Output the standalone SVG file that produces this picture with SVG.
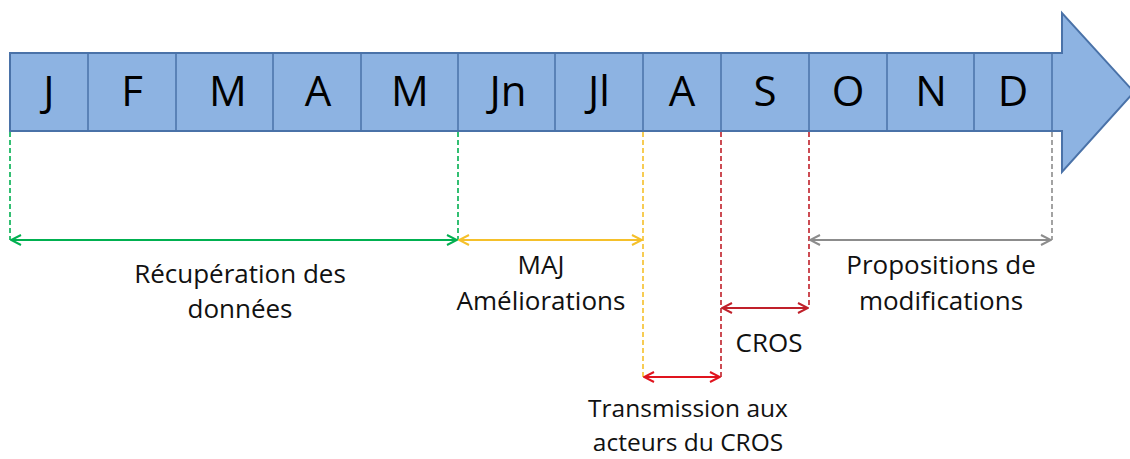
<svg xmlns="http://www.w3.org/2000/svg" width="1130" height="459" viewBox="0 0 1130 459">
<defs>
<style>
.m{font-family:"Open Sans","Liberation Sans",sans-serif;font-size:42px;fill:#000;text-anchor:middle}
.t{font-family:"Open Sans","Liberation Sans",sans-serif;font-size:26px;fill:#111;text-anchor:middle}
.s{font-size:24.5px}
.div{stroke:#4a72a8;stroke-width:1.5}
.d{fill:none;stroke-width:1.6;stroke-dasharray:5,3}
.a{fill:none;stroke-width:2}
</style>
<marker id="hg" viewBox="0 0 12 12" refX="11" refY="6" markerWidth="12" markerHeight="12" markerUnits="userSpaceOnUse" orient="auto-start-reverse"><path d="M1,1 L11,6 L1,11" fill="none" stroke="#00b050" stroke-width="2"/></marker>
<marker id="hy" viewBox="0 0 12 12" refX="11" refY="6" markerWidth="12" markerHeight="12" markerUnits="userSpaceOnUse" orient="auto-start-reverse"><path d="M1,1 L11,6 L1,11" fill="none" stroke="#f5c02a" stroke-width="2"/></marker>
<marker id="hr" viewBox="0 0 12 12" refX="11" refY="6" markerWidth="12" markerHeight="12" markerUnits="userSpaceOnUse" orient="auto-start-reverse"><path d="M1,1 L11,6 L1,11" fill="none" stroke="#e0141e" stroke-width="2"/></marker>
<marker id="hd" viewBox="0 0 12 12" refX="11" refY="6" markerWidth="12" markerHeight="12" markerUnits="userSpaceOnUse" orient="auto-start-reverse"><path d="M1,1 L11,6 L1,11" fill="none" stroke="#c0202a" stroke-width="2"/></marker>
<marker id="hk" viewBox="0 0 12 12" refX="11" refY="6" markerWidth="12" markerHeight="12" markerUnits="userSpaceOnUse" orient="auto-start-reverse"><path d="M1,1 L11,6 L1,11" fill="none" stroke="#8c8c8c" stroke-width="2"/></marker>
</defs>
<rect width="1130" height="459" fill="#fff"/>
<g id="timeline">
<path d="M10,53 L1062,53 L1062,13 L1134,92 L1062,172 L1062,131 L10,131 Z" fill="#8db3e2" stroke="#4a72a8" stroke-width="2"/>
<line class="div" x1="88" y1="53" x2="88" y2="131"/>
<line class="div" x1="176" y1="53" x2="176" y2="131"/>
<line class="div" x1="273" y1="53" x2="273" y2="131"/>
<line class="div" x1="361" y1="53" x2="361" y2="131"/>
<line class="div" x1="458" y1="53" x2="458" y2="131"/>
<line class="div" x1="555" y1="53" x2="555" y2="131"/>
<line class="div" x1="643" y1="53" x2="643" y2="131"/>
<line class="div" x1="721" y1="53" x2="721" y2="131"/>
<line class="div" x1="809" y1="53" x2="809" y2="131"/>
<line class="div" x1="887" y1="53" x2="887" y2="131"/>
<line class="div" x1="974" y1="53" x2="974" y2="131"/>
<line class="div" x1="1052" y1="53" x2="1052" y2="131"/>
<text class="m" x="49" y="106">J</text>
<text class="m" x="132" y="106">F</text>
<text class="m" x="228" y="106">M</text>
<text class="m" x="318" y="106">A</text>
<text class="m" x="410" y="106">M</text>
<text class="m" x="508" y="106">Jn</text>
<text class="m" x="599" y="106">Jl</text>
<text class="m" x="682" y="106">A</text>
<text class="m" x="765" y="106">S</text>
<text class="m" x="848" y="106">O</text>
<text class="m" x="931" y="106">N</text>
<text class="m" x="1013" y="106">D</text>
</g>
<g id="connectors">
<line class="d" stroke="#00b050" x1="10" y1="132" x2="10" y2="240"/>
<line class="d" stroke="#00b050" x1="458" y1="132" x2="458" y2="240"/>
<line class="d" stroke="#f5c02a" x1="643" y1="132" x2="643" y2="377"/>
<line class="d" stroke="#c0202a" x1="721" y1="132" x2="721" y2="377"/>
<line class="d" stroke="#c0202a" x1="809" y1="132" x2="809" y2="308"/>
<line class="d" stroke="#8c8c8c" x1="1052" y1="132" x2="1052" y2="240"/>
<line class="a" stroke="#00b050" x1="11" y1="240" x2="457" y2="240" marker-start="url(#hg)" marker-end="url(#hg)"/>
<line class="a" stroke="#f5c02a" x1="459" y1="240" x2="642" y2="240" marker-start="url(#hy)" marker-end="url(#hy)"/>
<line class="a" stroke="#8c8c8c" x1="810" y1="240" x2="1051" y2="240" marker-start="url(#hk)" marker-end="url(#hk)"/>
<line class="a" stroke="#c0202a" x1="722" y1="308" x2="808" y2="308" marker-start="url(#hd)" marker-end="url(#hd)"/>
<line class="a" stroke="#e0141e" x1="644" y1="377" x2="720" y2="377" marker-start="url(#hr)" marker-end="url(#hr)"/>
</g>
<g id="label-recuperation">
<text class="t" x="240" y="283">Récupération des</text>
<text class="t" x="240" y="318">données</text>
</g>
<g id="label-maj">
<text class="t" x="541" y="274">MAJ</text>
<text class="t" x="541" y="310">Améliorations</text>
</g>
<g id="label-cros">
<text class="t" x="769" y="352">CROS</text>
</g>
<g id="label-transmission">
<text class="t s" x="688" y="417">Transmission aux</text>
<text class="t s" x="688" y="451">acteurs du CROS</text>
</g>
<g id="label-propositions">
<text class="t" x="941" y="274">Propositions de</text>
<text class="t" x="941" y="310">modifications</text>
</g>
</svg>
